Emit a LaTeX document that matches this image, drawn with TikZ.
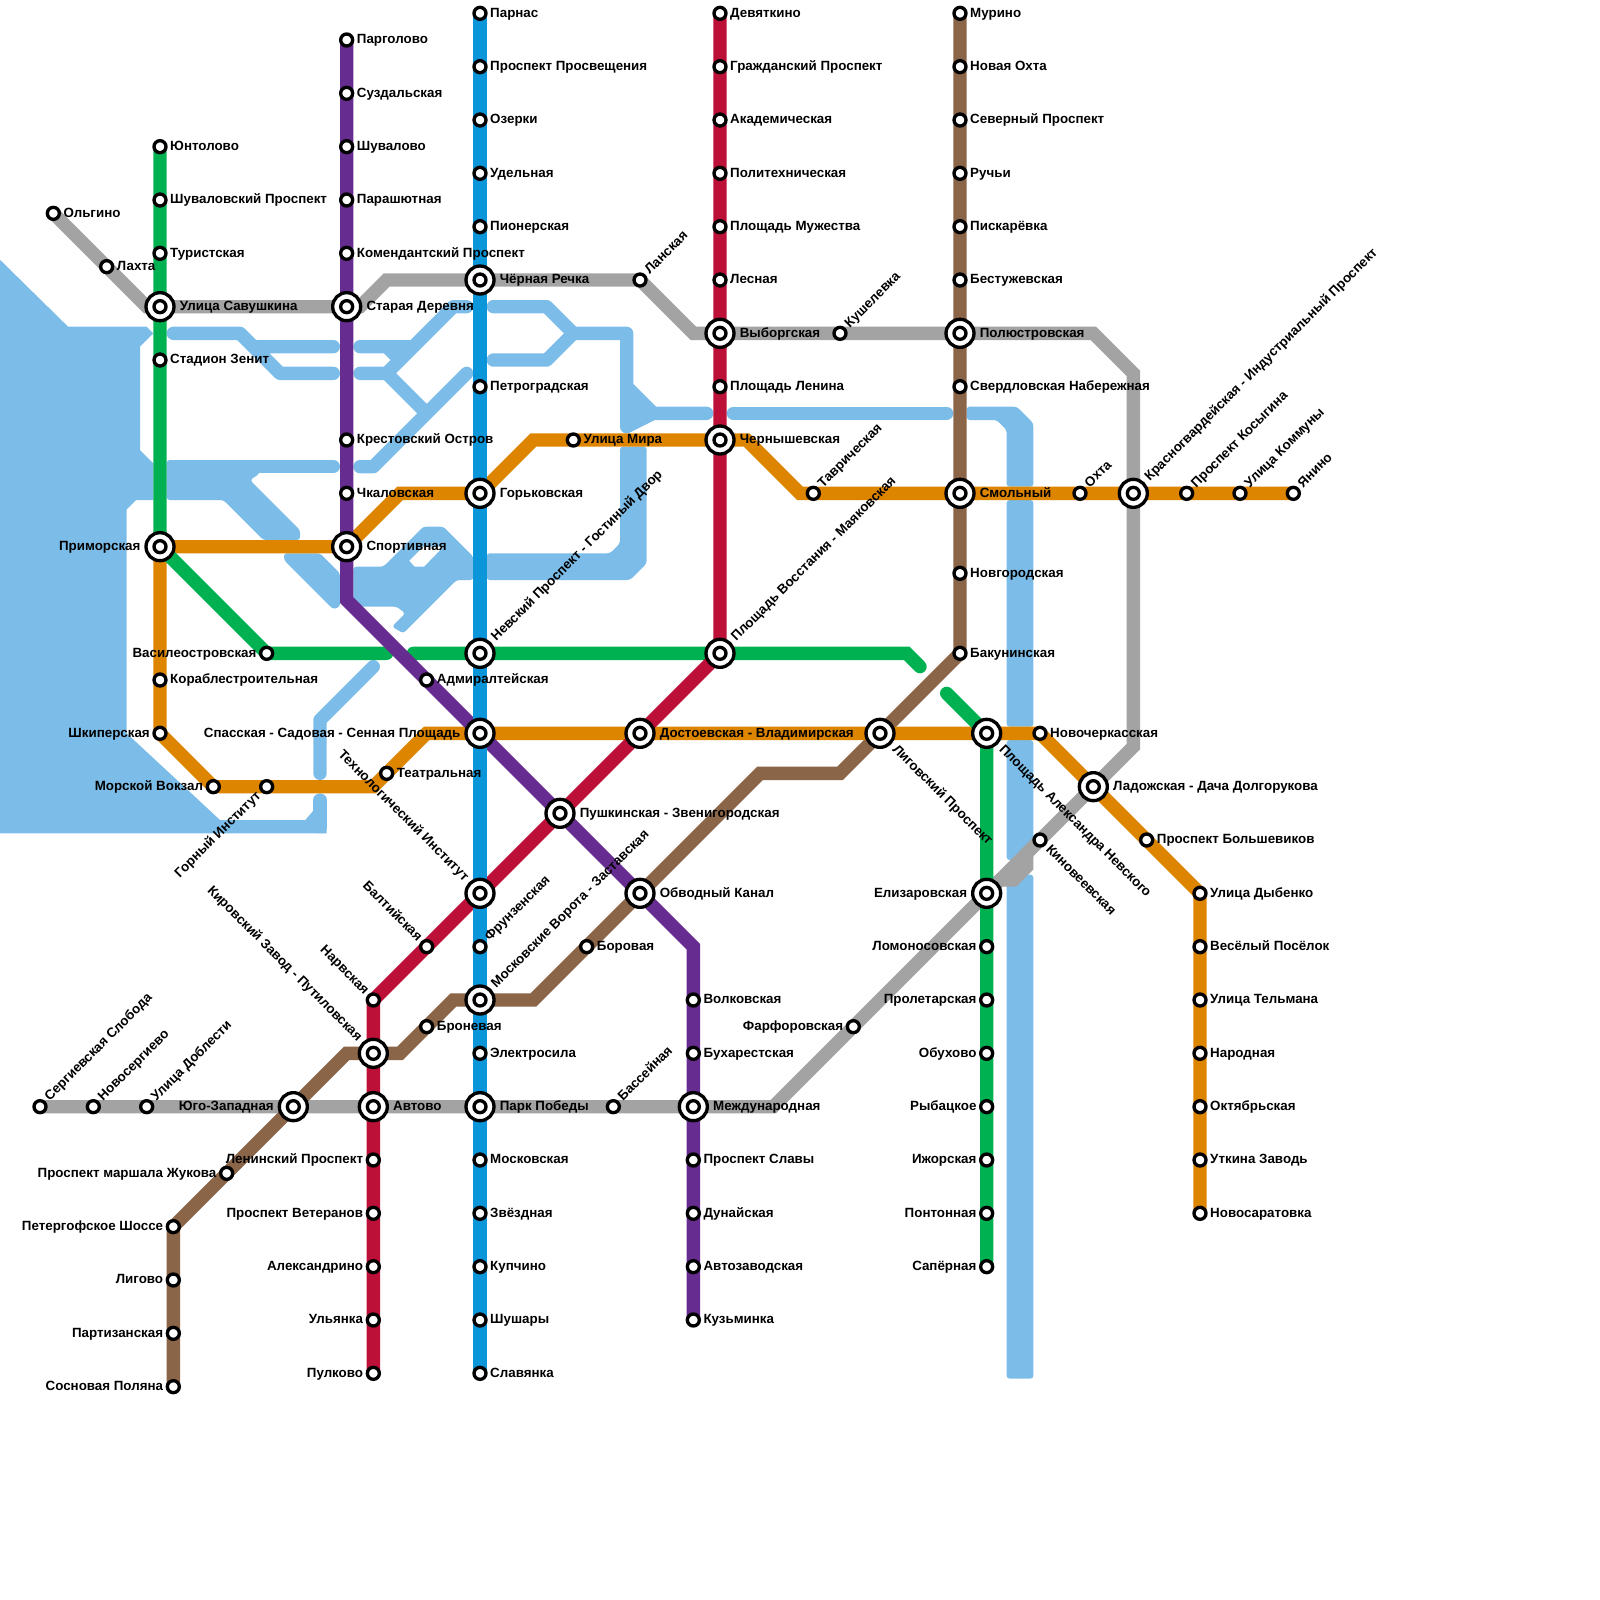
\documentclass[tikz,border=0pt]{standalone}
\usepackage{fontspec}
\setmainfont{Liberation Sans}[BoldFont={Liberation Sans Bold}]
\pgfdeclarelayer{water}\pgfdeclarelayer{lines}\pgfdeclarelayer{labels}
\pgfsetlayers{water,lines,main,labels}
\definecolor{cwater}{HTML}{7BBCE8}
\definecolor{cblue}{HTML}{0A96D8}
\definecolor{cred}{HTML}{BD1038}
\definecolor{cpurple}{HTML}{662C90}
\definecolor{cgreen}{HTML}{00B152}
\definecolor{corange}{HTML}{DE8500}
\definecolor{cbrown}{HTML}{8B6548}
\definecolor{cgrey}{HTML}{A3A3A3}
\def\uu{0.4cm}
\tikzset{
 metro/.style={line width=\uu,line cap=round},
 wl/.style={draw=cwater,line width=\uu,line cap=round,line join=round},
 wf/.style={fill=cwater,rounded corners=2.5pt},
 wg/.style={fill=cwater},
 st/.style={circle,draw=black,fill=white,line width=.25*\uu,minimum size=.9*\uu,inner sep=0pt},
 stb/.style={circle,draw=black,fill=white,line width=.25*\uu,minimum size=2.1*\uu,inner sep=0pt},
 lab/.style={font=\bfseries\fontsize{11.4pt}{12pt}\selectfont,inner sep=0pt,text=black},
 lbR/.style={lab,anchor=base west,xshift=.75*\uu,yshift=-.28*\uu},
 lbRB/.style={lab,anchor=base west,xshift=1.47*\uu,yshift=-.28*\uu},
 lbL/.style={lab,anchor=base east,xshift=-.75*\uu,yshift=-.28*\uu},
 lbLB/.style={lab,anchor=base east,xshift=-1.45*\uu,yshift=-.28*\uu},
 lbUR/.style={lab,anchor=base west,xshift=.72*\uu,yshift=.37*\uu,rotate=45},
 lbURB/.style={lab,anchor=base west,xshift=1.22*\uu,yshift=.86*\uu,rotate=45},
 lbDRB/.style={lab,anchor=base west,xshift=.88*\uu,yshift=-1.24*\uu,rotate=-45},
 lbDR/.style={lab,anchor=base west,xshift=.39*\uu,yshift=-.74*\uu,rotate=-45},
 lbUL/.style={lab,anchor=base east,xshift=-.70*\uu,yshift=.37*\uu,rotate=-45},
 lbULB/.style={lab,anchor=base east,xshift=-1.2*\uu,yshift=.86*\uu,rotate=-45},
 lbDL/.style={lab,anchor=base east,xshift=-.37*\uu,yshift=-.72*\uu,rotate=45},
}
\begin{document}
\begin{tikzpicture}[x=\uu,y=-\uu]
\useasboundingbox (0,0) rectangle (120,120);
\begin{pgfonlayer}{water}\fill[white] (0,0) rectangle (120,120);\end{pgfonlayer}
% small stations
\foreach \nm/\xx/\yy/\sty/\txt in {
parnas/36/1/lbR/Парнас,prosv/36/5/lbR/Проспект Просвещения,ozerki/36/9/lbR/Озерки,udel/36/13/lbR/Удельная,pion/36/17/lbR/Пионерская,petrog/36/29/lbR/Петроградская,frunz/36/71/lbUR/Фрунзенская,elektro/36/79/lbR/Электросила,moskov/36/87/lbR/Московская,zvezd/36/91/lbR/Звёздная,kupch/36/95/lbR/Купчино,shush/36/99/lbR/Шушары,slav/36/103/lbR/Славянка,
devyat/54/1/lbR/Девяткино,grazhd/54/5/lbR/Гражданский Проспект,akad/54/9/lbR/Академическая,polit/54/13/lbR/Политехническая,muzh/54/17/lbR/Площадь Мужества,lesn/54/21/lbR/Лесная,lenin/54/29/lbR/Площадь Ленина,balt/32/71/lbUL/Балтийская,narv/28/75/lbUL/Нарвская,leninpr/28/87/lbL/Ленинский Проспект,veter/28/91/lbL/Проспект Ветеранов,alex/28/95/lbL/Александрино,ulyan/28/99/lbL/Ульянка,pulk/28/103/lbL/Пулково,
pargol/26/3/lbR/Парголово,suzd/26/7/lbR/Суздальская,shuv/26/11/lbR/Шувалово,parash/26/15/lbR/Парашютная,koman/26/19/lbR/Комендантский Проспект,krest/26/33/lbR/Крестовский Остров,chkal/26/37/lbR/Чкаловская,admir/32/51/lbR/Адмиралтейская,volk/52/75/lbR/Волковская,buhar/52/79/lbR/Бухарестская,slavy/52/87/lbR/Проспект Славы,dunay/52/91/lbR/Дунайская,avtoz/52/95/lbR/Автозаводская,kuzm/52/99/lbR/Кузьминка,
yunt/12/11/lbR/Юнтолово,shuvpr/12/15/lbR/Шуваловский Проспект,turist/12/19/lbR/Туристская,zenit/12/27/lbR/Стадион Зенит,vasil/20/49/lbL/Василеостровская,lomon/74/71/lbL/Ломоносовская,prolet/74/75/lbL/Пролетарская,obuh/74/79/lbL/Обухово,rybac/74/83/lbL/Рыбацкое,izhor/74/87/lbL/Ижорская,ponton/74/91/lbL/Понтонная,saper/74/95/lbL/Сапёрная,
olg/4/16/lbR/Ольгино,lahta/8/20/lbR/Лахта,lansk/48/21/lbUR/Ланская,kushel/63/25/lbUR/Кушелевка,kinov/78/63/lbDR/Киновеевская,farf/64/77/lbL/Фарфоровская,bass/46/83/lbUR/Бассейная,doblest/11/83/lbUR/Улица Доблести,novoserg/7/83/lbUR/Новосергиево,sergiev/3/83/lbUR/Сергиевская Слобода,
korab/12/51/lbR/Кораблестроительная,shkip/12/55/lbL/Шкиперская,morsk/16/59/lbL/Морской Вокзал,gorny/20/59/lbDL/Горный Институт,teatr/29/58/lbR/Театральная,mira/43/33/lbR/Улица Мира,tavr/61/37/lbUR/Таврическая,ohta/81/37/lbUR/Охта,kosyg/89/37/lbUR/Проспект Косыгина,kommun/93/37/lbUR/Улица Коммуны,yanino/97/37/lbUR/Янино,novoch/78/55/lbR/Новочеркасская,bolsh/86/63/lbR/Проспект Большевиков,dyben/90/67/lbR/Улица Дыбенко,vesel/90/71/lbR/Весёлый Посёлок,telm/90/75/lbR/Улица Тельмана,narod/90/79/lbR/Народная,oktyab/90/83/lbR/Октябрьская,utkin/90/87/lbR/Уткина Заводь,novosar/90/91/lbR/Новосаратовка,
murino/72/1/lbR/Мурино,nohta/72/5/lbR/Новая Охта,sever/72/9/lbR/Северный Проспект,ruchi/72/13/lbR/Ручьи,piskar/72/17/lbR/Пискарёвка,bestuzh/72/21/lbR/Бестужевская,sverd/72/29/lbR/Свердловская Набережная,novgor/72/43/lbR/Новгородская,bakun/72/49/lbR/Бакунинская,borov/44/71/lbR/Боровая,bronev/32/77/lbR/Броневая,zhuk/17/88/lbL/Проспект маршала Жукова,peterg/13/92/lbL/Петергофское Шоссе,ligovo/13/96/lbL/Лигово,partiz/13/100/lbL/Партизанская,sosn/13/104/lbL/Сосновая Поляна}
{\node[st] (\nm) at (\xx,\yy) {};
 \begin{pgfonlayer}{labels}\node[\sty] (\nm-l) at (\xx,\yy) {\txt};\end{pgfonlayer}}
% interchange stations
\foreach \nm/\xx/\yy/\sty/\txt in {
chern/36/21/lbRB/Чёрная Речка,gork/36/37/lbRB/Горьковская,nevsk/36/49/lbURB/Невский Проспект - Гостиный Двор,sadov/36/55/lbLB/Спасская - Садовая - Сенная Площадь,tehn/36/67/lbULB/Технологический Институт,mosvor/36/75/lbURB/Московские Ворота - Заставская,park/36/83/lbRB/Парк Победы,
vyb/54/25/lbRB/Выборгская,chernysh/54/33/lbRB/Чернышевская,vosst/54/49/lbURB/Площадь Восстания - Маяковская,dost/48/55/lbRB/Достоевская - Владимирская,push/42/61/lbRB/Пушкинская - Звенигородская,kirov/28/79/lbULB/Кировский Завод - Путиловская,avtovo/28/83/lbRB/Автово,
stard/26/23/lbRB/Старая Деревня,sport/26/41/lbRB/Спортивная,obv/48/67/lbRB/Обводный Канал,mezhd/52/83/lbRB/Международная,
savush/12/23/lbRB/Улица Савушкина,prim/12/41/lbLB/Приморская,alnev/74/55/lbDRB/Площадь Александра Невского,eliz/74/67/lbLB/Елизаровская,
polyus/72/25/lbRB/Полюстровская,smol/72/37/lbRB/Смольный,ligpr/66/55/lbDRB/Лиговский Проспект,yugoz/22/83/lbLB/Юго-Западная,
krasn/85/37/lbURB/Красногвардейская - Индустриальный Проспект,ladog/82/59/lbRB/Ладожская - Дача Долгорукова}
{\node[stb] (\nm) at (\xx,\yy) {};
 \node[st] (\nm-i) at (\xx,\yy) {};
 \begin{pgfonlayer}{labels}\node[\sty] (\nm-l) at (\xx,\yy) {\txt};\end{pgfonlayer}}
% bends
\foreach \nm/\xx/\yy in {
pb1/26/45,pb2/52/71,gb1/68/49,ge1/69/50,gs2/71/52,ga/29/49,gc/31/49,
ob1/30/37,ob2/40/33,ob3/56/33,ob4/60/37,ob5/28/59,ob6/32/55,
bb1/63/58,bb2/57/58,bb3/40/75,bb4/34/75,bb5/30/79,bb6/26/79,
ab1/11/23,ab0/27/23,ab2/29/21,ab3/52/25,ab4/82/25,ab5/85/28,ab6/85/56,ab7/58/83,
ac1/77/64,ac2/77/65,ac3/76/66,ac4/75/66}
{\coordinate (\nm) at (\xx,\yy);}
% lines
\begin{pgfonlayer}{lines}
\draw[metro,cgrey] (olg.center)--(lahta.center)--(ab1)--(savush.center)--(stard.center)--(ab0)--(ab2)--(chern.center)--(lansk.center)--(ab3)--(vyb.center)--(kushel.center)--(polyus.center)--(ab4)--(ab5)--(krasn.center)--(ab6)--(ladog.center)--(kinov.center)--(eliz.center)--(farf.center)--(ab7)--(mezhd.center)--(bass.center)--(park.center)--(avtovo.center)--(yugoz.center)--(doblest.center)--(novoserg.center)--(sergiev.center);
\draw[metro,cgrey] (kinov.center)--(ac1)--(ac2)--(ac3)--(ac4)--(eliz.center);
\draw[metro,cbrown] (murino.center)--(nohta.center)--(sever.center)--(ruchi.center)--(piskar.center)--(bestuzh.center)--(polyus.center)--(sverd.center)--(smol.center)--(novgor.center)--(bakun.center)--(ligpr.center)--(bb1)--(bb2)--(obv.center)--(borov.center)--(bb3)--(mosvor.center)--(bb4)--(bronev.center)--(bb5)--(kirov.center)--(bb6)--(yugoz.center)--(zhuk.center)--(peterg.center)--(ligovo.center)--(partiz.center)--(sosn.center);
\draw[metro,corange] (novosar.center)--(utkin.center)--(oktyab.center)--(narod.center)--(telm.center)--(vesel.center)--(dyben.center)--(bolsh.center)--(ladog.center)--(novoch.center)--(alnev.center)--(ligpr.center)--(dost.center)--(sadov.center)--(ob6)--(teatr.center)--(ob5)--(gorny.center)--(morsk.center)--(shkip.center)--(korab.center)--(prim.center)--(sport.center)--(ob1)--(gork.center)--(ob2)--(mira.center)--(chernysh.center)--(ob3)--(ob4)--(tavr.center)--(smol.center)--(ohta.center)--(krasn.center)--(kosyg.center)--(kommun.center)--(yanino.center);
\draw[metro,cgreen] (yunt.center)--(shuvpr.center)--(turist.center)--(savush.center)--(zenit.center)--(prim.center)--(vasil.center)--(ga);
\draw[metro,cgreen] (gc)--(nevsk.center)--(vosst.center)--(gb1)--(ge1);
\draw[metro,cgreen] (gs2)--(alnev.center)--(eliz.center)--(lomon.center)--(prolet.center)--(obuh.center)--(rybac.center)--(izhor.center)--(ponton.center)--(saper.center);
\draw[metro,cred] (devyat.center)--(grazhd.center)--(akad.center)--(polit.center)--(muzh.center)--(lesn.center)--(vyb.center)--(lenin.center)--(chernysh.center)--(vosst.center)--(dost.center)--(push.center)--(tehn.center)--(balt.center)--(narv.center)--(kirov.center)--(avtovo.center)--(leninpr.center)--(veter.center)--(alex.center)--(ulyan.center)--(pulk.center);
\draw[metro,cpurple] (pargol.center)--(suzd.center)--(shuv.center)--(parash.center)--(koman.center)--(stard.center)--(krest.center)--(chkal.center)--(sport.center)--(pb1)--(admir.center)--(sadov.center)--(push.center)--(obv.center)--(pb2)--(volk.center)--(buhar.center)--(mezhd.center)--(slavy.center)--(dunay.center)--(avtoz.center)--(kuzm.center);
\draw[metro,cblue] (parnas.center)--(prosv.center)--(ozerki.center)--(udel.center)--(pion.center)--(chern.center)--(petrog.center)--(gork.center)--(nevsk.center)--(sadov.center)--(tehn.center)--(frunz.center)--(mosvor.center)--(elektro.center)--(park.center)--(moskov.center)--(zvezd.center)--(kupch.center)--(shush.center)--(slav.center);
\end{pgfonlayer}
% water
\begin{pgfonlayer}{water}
\fill[wg] (-1,18.5)--(5.1,24.5)--(11,24.5)--(11.5,25)--(10.5,26)--(10.5,33.75)--(11.5,34.75)--(11.5,37.5)--(10.2,37.5)--(9.5,38.2)--(9.5,55)--(16.5,61.5)--(22.9,61.5)--(23.5,60.8)--(23.5,60)--(24.5,60)--(24.5,62.5)--(-1,62.5)--cycle;
\draw[wl] (24,60)--(24,62);
\draw[wl] (13,25)--(18,25)--(19,26)--(25,26) (18,25)--(21,28)--(25,28);
\draw[wl] (27,26)--(31,26)--(34,23)--(35,23) (29,26)--(30,27) (27,28)--(29,28)--(31,26) (29,28)--(32,31) (35,28)--(28,35)--(27,35);
\draw[wl] (13,35)--(25,35);
\fill[wf] (12.5,34.5)--(19,34.5)--(19.5,35.5)--(18.75,36)--(22.5,39.75)--(22.5,40.5)--(19.75,40.5)--(16.75,37.5)--(12.5,37.5)--cycle;
\fill[wf] (21.3,41.5)--(24,41.5)--(25.5,43)--(25.5,45.5)--(25,45.7)--(21.3,42)--cycle;
\fill[wf] (26.5,42.5)--(28.75,42.5)--(31.75,39.5)--(33.25,39.5)--(35.5,41.75)--(35.5,43.5)--(34.25,43.5)--(30.25,47.5)--(29.4,47)--(30.4,46)--(29.75,45.5)--(26.5,45.5)--cycle;
\fill[white] (30.7,42.05)--(31.75,41)--(33.25,41)--(31.8,42.5)--(31.1,42.5)--cycle;
\fill[wf] (36.5,41.5)--(45.75,41.5)--(46.5,40.75)--(46.5,33.5)--(48.5,33.5)--(48.5,42.25)--(47.25,43.5)--(36.5,43.5)--cycle;
\draw[wl] (37,23)--(41,23)--(43,25)--(47,25)--(47,32) (37,27)--(41,27)--(43,25) (47,29)--(49,31)--(53,31) (47,32)--(49,31);
\fill[cwater] (47,29)--(49,31)--(47,32.5)--cycle;
\draw[wl] (55,31)--(71,31);
\fill[wf] (72.5,30.5)--(76.25,30.5)--(77.5,31.75)--(77.5,36.5)--(75.5,36.5)--(75.5,32.25)--(74.75,31.5)--(72.5,31.5)--cycle;
\fill[wf] (75.5,37.5) rectangle (77.5,54.5);
\fill[wf] (75.5,55.5) rectangle (77.5,64.5);
\fill[wf] (75.5,65.6) rectangle (77.5,103.4);
\draw[wl] (28,50)--(24,54)--(24,58);
\end{pgfonlayer}
\end{tikzpicture}
\end{document}
